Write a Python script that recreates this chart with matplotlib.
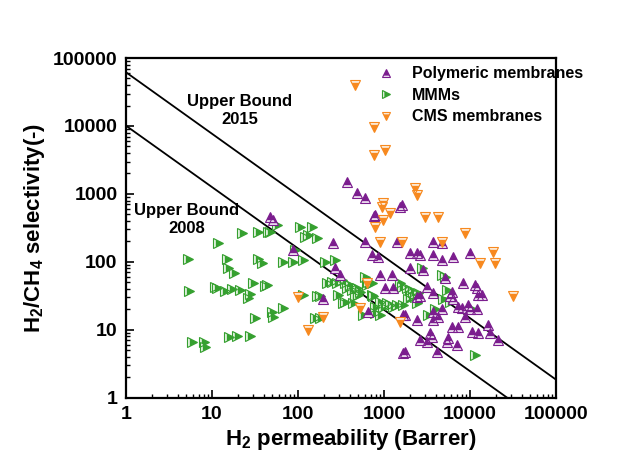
import matplotlib
matplotlib.use("Agg")
import matplotlib.pyplot as plt
from matplotlib.path import Path
from matplotlib.markers import MarkerStyle
from matplotlib.ticker import LogLocator, FuncFormatter, NullFormatter

plt.rcParams['font.family'] = ['Liberation Sans', 'DejaVu Sans']
plt.rcParams['font.weight'] = 'bold'
plt.rcParams['axes.labelweight'] = 'bold'
plt.rcParams['mathtext.fontset'] = 'custom'
plt.rcParams['mathtext.rm'] = 'Liberation Sans:bold'
plt.rcParams['mathtext.bf'] = 'Liberation Sans:bold'
plt.rcParams['mathtext.default'] = 'bf'

# Polymeric membranes (H2 permeability, H2/CH4 selectivity)
poly_p = [47.2, 51.2, 87.5, 255, 601, 1417, 786, 1535, 269, 308, 725, 851, 898, 1239,
          1027, 1273, 195, 652, 1663, 1663, 371, 485, 601, 1619, 765, 3715, 4725, 2006,
          2419, 2622, 3715, 4725, 6343, 10000, 2006, 2839, 5121, 8292, 11430, 12050,
          12390, 13800, 3162, 3715, 6180, 5856, 6343, 2622, 2419, 7253, 8074, 9484,
          10000, 8750, 12050, 3715, 4725, 4248, 1754, 2419, 6180, 7253, 3715, 10550,
          12390, 17100, 16190, 3427, 3617, 2622, 3162, 5550, 5404, 7063, 21180, 1754, 4136]
poly_s = [459, 415, 150, 190, 197, 197, 491, 644, 82, 64, 127, 119, 64, 64,
          41, 41, 28, 18.4, 16.6, 4.6, 1500, 1035, 873, 689, 475, 197, 190, 136,
          136, 127, 127, 107, 119, 136, 82, 76, 58, 49, 46, 41,
          33, 33, 43, 35, 36, 31, 28, 31, 30, 22, 21, 23,
          20, 15.5, 20, 18.4, 20, 15.5, 16.6, 14.0, 11.1, 11.1, 14.0, 9.3,
          9.0, 9.0, 11.9, 9.0, 7.9, 7.1, 6.7, 7.6, 6.7, 6.0, 7.1, 4.7, 4.7]

# Mixed matrix membranes
mmm_p = [22.3, 34.3, 44.8, 11.7, 5.3, 14.9, 15.4, 18.0, 34.3, 38.1, 5.4, 10.8, 11.4,
         14.2, 17.1, 21.2, 30.0, 27.7, 26.2, 41.3, 31.6, 5.9, 8.1, 8.3, 15.8, 19.5, 27.7,
         47.2, 57.0, 105, 145, 121, 131, 166, 92.3, 114, 87.5, 66.9, 206, 269, 43.6,
         217, 249, 284, 325, 352, 403, 371, 425, 485, 526, 601, 652, 725, 114, 166,
         180, 292, 352, 460, 499, 745, 786, 898, 973, 1083, 1175, 1273, 1417, 49.9,
         51.2, 66.9, 158, 180, 570, 786, 898, 334, 436, 4725, 5121, 5404, 4853, 5856,
         2767, 1619, 2006, 2174, 2485, 2291, 1901, 1663, 3248, 3920, 10550, 11430,
         634, 725, 1535, 1830, 2090, 2419]
mmm_s = [267, 276, 276, 190, 111, 111, 82, 69, 111, 97, 37, 43, 41,
         37, 40, 39, 49, 34, 29, 44, 15.0, 6.7, 6.7, 5.6, 7.9, 8.2, 8.2,
         276, 350, 327, 327, 233, 250, 225, 150, 107, 100, 100, 100, 107, 46,
         49, 51, 49, 54, 49, 46, 41, 39, 41, 36, 60, 51, 49, 33, 31,
         31, 33, 26, 31, 33, 31, 22, 26, 22, 25, 23, 22, 23, 18.4,
         15.5, 21, 15.0, 15.0, 16.6, 17.8, 16.6, 25, 25, 64, 60, 39, 28, 26,
         82, 43, 39, 36, 35, 30, 28, 23, 16.6, 20, 20, 4.3,
         46, 33, 49, 41, 31, 25]

# Carbon molecular sieve membranes
cms_p = [460, 765, 765, 1027, 2291, 2419, 973, 948, 1175, 973, 786, 898, 1619, 4725,
         2997, 4248, 8750, 18490, 13060, 19540, 31620, 634, 100, 526, 195, 131, 1535]
cms_s = [40100, 9670, 3750, 4440, 1225, 966, 738, 644, 526, 415, 327, 197, 197, 197,
         459, 459, 267, 140, 97, 97, 31, 49, 30, 21, 15.5, 10, 13.1]

# Robeson upper bounds, end points of the lines
ub_p = [1, 1e5]
ub2008_s = [10140, 0.308]
ub2015_s = [62000, 1.85]

purple = '#7b1d8e'
green = '#35a02f'
orange = '#f7891f'

# light strip on the flat side of a triangle, Origin style half filled symbol
band_up = Path([(-1, -1), (1, -1), (0.775, -0.55), (-0.775, -0.55), (-1, -1)], closed=True)
band_right = Path([(-1, 1), (-1, -1), (-0.55, -0.775), (-0.55, 0.775), (-1, 1)], closed=True)
band_down = Path([(1, 1), (-1, 1), (-0.775, 0.55), (0.775, 0.55), (1, 1)], closed=True)


def half_filled(ax, x, y, marker, band, color, tint, ms=7):
    a, = ax.plot(x, y, ls='none', marker=marker, ms=ms, mfc=color, mec='none')
    b, = ax.plot(x, y, ls='none', marker=MarkerStyle(band), ms=ms, mfc=tint, mec='none')
    c, = ax.plot(x, y, ls='none', marker=marker, ms=ms, mfc='none', mec=color, mew=0.8)
    return (a, b, c)


fig = plt.figure(figsize=(6.29, 4.68), dpi=100)
ax = fig.add_axes([0.200, 0.150, 0.684, 0.726])

ax.plot(ub_p, ub2008_s, color='black', lw=1.3, zorder=1)
ax.plot(ub_p, ub2015_s, color='black', lw=1.3, zorder=1)

h_mmm = half_filled(ax, mmm_p, mmm_s, '>', band_right, green, '#e6f4e4')
h_poly = half_filled(ax, poly_p, poly_s, '^', band_up, purple, '#efe2f2')
h_cms = half_filled(ax, cms_p, cms_s, 'v', band_down, orange, '#fdeedd')

ax.set_xscale('log')
ax.set_yscale('log')
ax.set_xlim(1, 1e5)
ax.set_ylim(1, 1e5)

fmt = FuncFormatter(lambda v, pos: '%d' % round(v))
for axis in (ax.xaxis, ax.yaxis):
    axis.set_major_locator(LogLocator(base=10, numticks=10))
    axis.set_minor_locator(LogLocator(base=10, subs=range(2, 10), numticks=20))
    axis.set_major_formatter(fmt)
    axis.set_minor_formatter(NullFormatter())

ax.tick_params(which='major', direction='in', length=6, width=1.2, labelsize=14, pad=6)
ax.tick_params(which='minor', direction='in', length=3, width=1.0)
for s in ax.spines.values():
    s.set_linewidth(1.6)

ax.set_xlabel('H$_2$ permeability (Barrer)', fontsize=16)
ax.set_ylabel('H$_2$/CH$_4$ selectivity(-)', fontsize=16, labelpad=4)
ax.xaxis.set_label_coords(0.523, -0.085)

ax.text(0.265, 0.847, 'Upper Bound\n2015', transform=ax.transAxes, ha='center',
        va='center', fontsize=12, linespacing=1.25)
ax.text(0.142, 0.526, 'Upper Bound\n2008', transform=ax.transAxes, ha='center',
        va='center', fontsize=12, linespacing=1.25)

fig.legend(handles=[h_poly, h_mmm, h_cms],
           labels=['Polymeric membranes', 'MMMs', 'CMS membranes'],
           loc='upper left', bbox_to_anchor=(0.576, 0.889), frameon=False, fontsize=11.5,
           handlelength=1.2, handletextpad=1.0, labelspacing=0.4, markerscale=0.8)

fig.savefig('out.png', dpi=100)
